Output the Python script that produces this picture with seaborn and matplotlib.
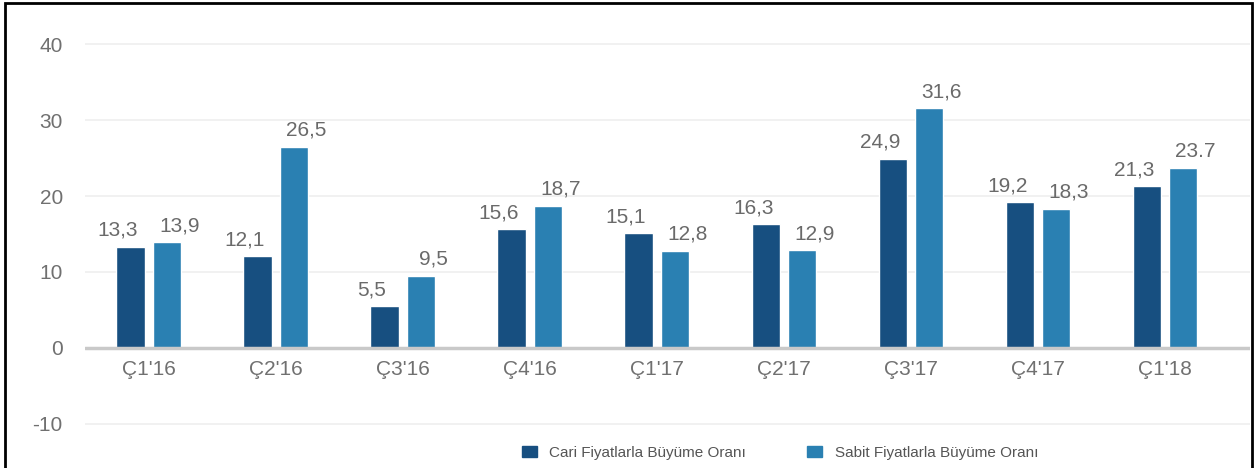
import matplotlib
matplotlib.use("Agg")
import matplotlib.pyplot as plt
import matplotlib.patches as mpatches
import seaborn as sns
import pandas as pd

categories = ["Ç1'16", "Ç2'16", "Ç3'16", "Ç4'16", "Ç1'17", "Ç2'17", "Ç3'17", "Ç4'17", "Ç1'18"]
series_names = ["Cari Fiyatlarla Büyüme Oranı", "Sabit Fiyatlarla Büyüme Oranı"]
values_a = [13.3, 12.1, 5.5, 15.6, 15.1, 16.3, 24.9, 19.2, 21.3]
values_b = [13.9, 26.5, 9.5, 18.7, 12.8, 12.9, 31.6, 18.3, 23.7]
labels_a = ["13,3", "12,1", "5,5", "15,6", "15,1", "16,3", "24,9", "19,2", "21,3"]
labels_b = ["13,9", "26,5", "9,5", "18,7", "12,8", "12,9", "31,6", "18,3", "23.7"]
yticks = [-10, 0, 10, 20, 30, 40]

colors = ["#174f80", "#2a80b2"]

df = pd.DataFrame({
    "cat": categories * 2,
    "series": [series_names[0]] * len(categories) + [series_names[1]] * len(categories),
    "val": values_a + values_b,
})

sns.set_theme(style="white")
plt.rcParams['font.family'] = ['Liberation Sans', 'DejaVu Sans']

W, H = 1258, 468
fig = plt.figure(figsize=(W / 100, H / 100), dpi=100)
ax = fig.add_axes([85 / W, (H - 439) / H, (1250 - 85) / W, (439 - 29) / H])

sns.barplot(data=df, x="cat", y="val", hue="series", order=categories,
            hue_order=series_names, palette=colors, width=0.57, gap=0.22,
            saturation=1, ax=ax, legend=False)

ax.set_ylim(-12, 42)
ax.set_xlim(-0.5, 8.67)
ax.set_yticks(yticks)
ax.set_yticklabels([str(t) for t in yticks])
ax.yaxis.grid(True, color="#efefef", linewidth=1.2)
ax.set_axisbelow(True)
ax.axhline(0, color="#c9c9c9", linewidth=2.5, zorder=1)
for s in ax.spines.values():
    s.set_visible(False)
ax.set_xlabel("")
ax.set_ylabel("")
ax.tick_params(axis="y", length=0, pad=16, labelsize=15, labelcolor="#707070")
ax.tick_params(axis="x", length=0)
ax.set_xticks(range(len(categories)))
ax.set_xticklabels([])
for i, c in enumerate(categories):
    ax.text(i, -1.6, c, ha="center", va="top", fontsize=15, color="#707070")

for cont, labs, dx in zip(ax.containers, [labels_a, labels_b], [-9, 9]):
    for bar, lab in zip(cont, labs):
        ax.annotate(lab, xy=(bar.get_x() + bar.get_width() / 2, bar.get_height()),
                    xytext=(dx, 5), textcoords="offset points",
                    ha="center", va="bottom", fontsize=15, color="#6a6a6a")

handles = [mpatches.Patch(color=colors[0]), mpatches.Patch(color=colors[1])]
fig.legend(handles, series_names, loc="lower center", bbox_to_anchor=(0.62, -0.012),
           ncol=2, frameon=False, fontsize=11, labelcolor="#555555",
           handlelength=1.0, columnspacing=4)

border = mpatches.Rectangle((5 / W, -0.1), (1252 - 5) / W, (H - 3) / H + 0.1,
                            transform=fig.transFigure, fill=False,
                            edgecolor="black", linewidth=2, clip_on=False)
fig.patches.append(border)

fig.savefig("out.png", dpi=100, facecolor="white")
